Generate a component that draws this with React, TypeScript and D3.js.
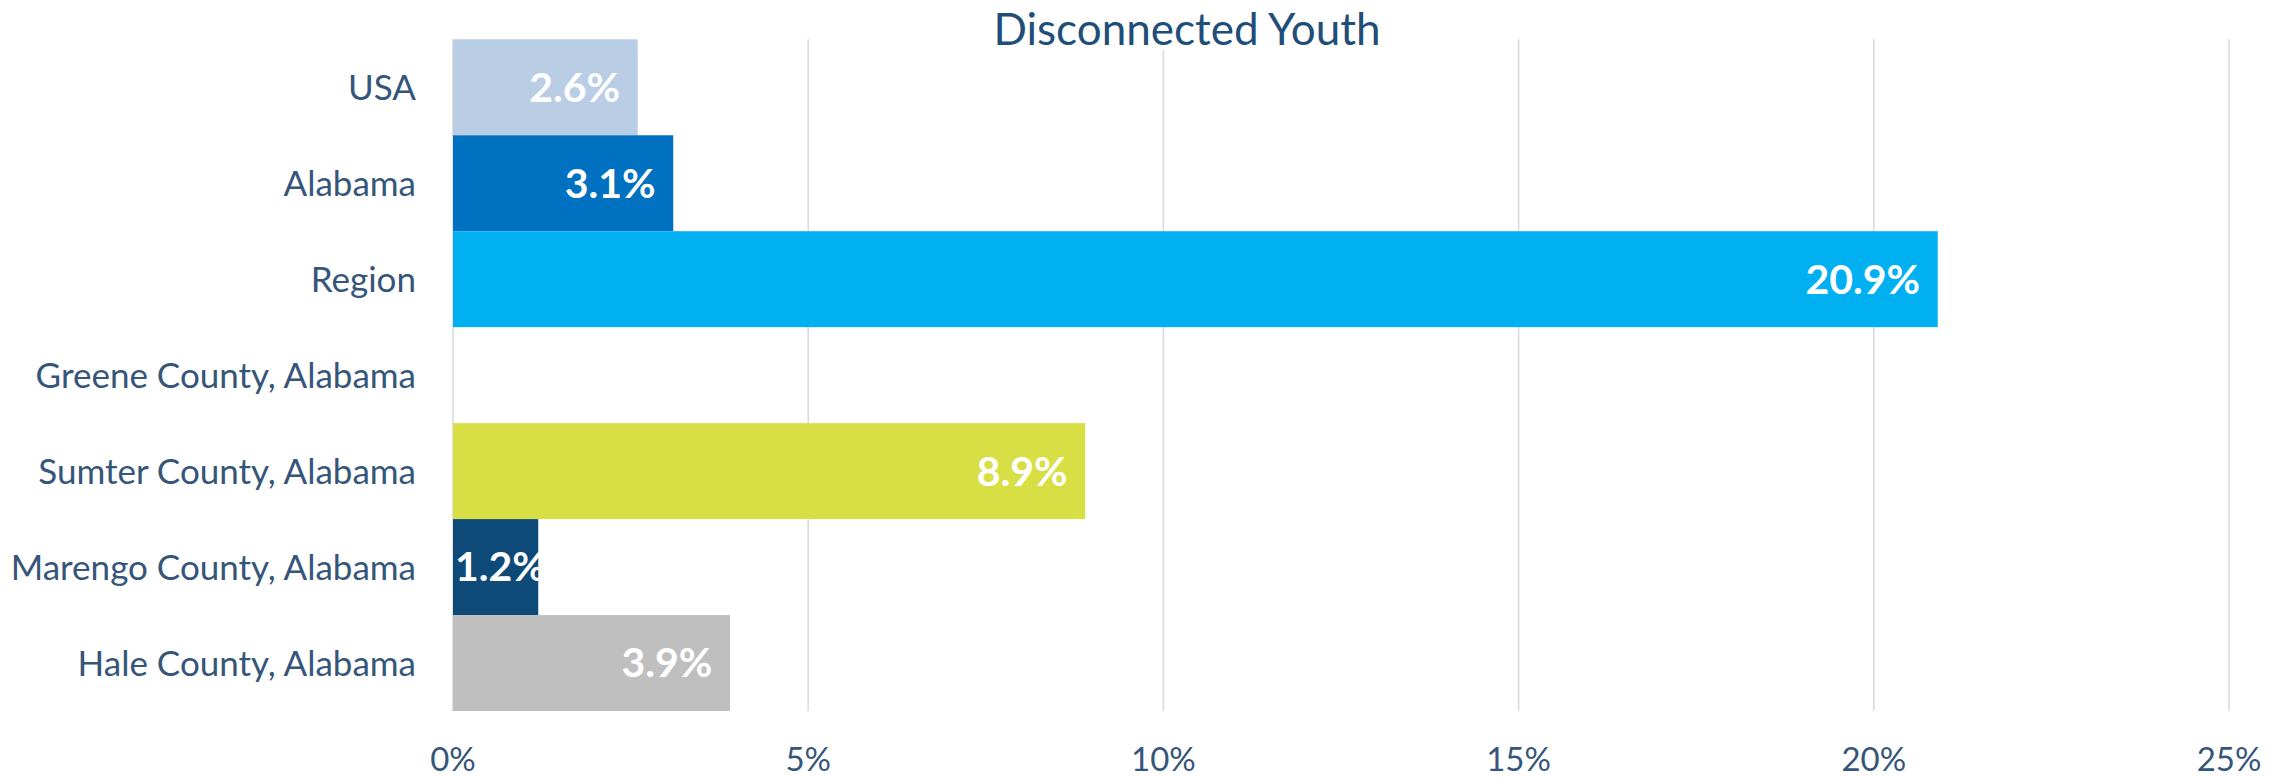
import React from "react";
import * as d3 from "d3";

const title = "Disconnected Youth";
const categories = [
  "USA",
  "Alabama",
  "Region",
  "Greene County, Alabama",
  "Sumter County, Alabama",
  "Marengo County, Alabama",
  "Hale County, Alabama",
];
const values: (number | null)[] = [0.026, 0.031, 0.209, null, 0.089, 0.012, 0.039];
const barColors = ["#B9CDE5", "#0070C0", "#00B0F0", "#FFFFFF", "#D7DF45", "#0D4A78", "#BFBFBF"];
const xTicks = [0, 0.05, 0.1, 0.15, 0.2, 0.25];

const W = 2290;
const H = 778;
const FONT = "Lato, 'Open Sans', sans-serif";

export default function App() {
  const x = d3.scaleLinear().domain([0, 0.25]).range([453, 2229]);
  const y = d3.scaleBand<string>().domain(categories).range([39.3, 711]).padding(0);
  const pct0 = d3.format(".0%");
  const pct1 = d3.format(".1%");
  const labelFs = 41;
  const pad = 17.6;
  const textCol = "#35557A";

  return (
    <svg
      width={W}
      height={H}
      style={{ position: "absolute", left: 0, top: 0, background: "#fff" }}
      fontFamily={FONT}
    >
      <rect x={0} y={0} width={W} height={H} fill="#fff" />
      {xTicks.map((t) => (
        <line
          key={"g" + t}
          x1={x(t)}
          x2={x(t)}
          y1={39.3}
          y2={711}
          stroke="#D9D9D9"
          strokeWidth={1.5}
        />
      ))}
      {categories.map((c, i) => {
        const v = values[i];
        if (v == null) return null;
        return (
          <rect
            key={"b" + c}
            x={x(0)}
            y={y(c)!}
            width={x(v) - x(0)}
            height={y.bandwidth()}
            fill={barColors[i]}
          />
        );
      })}
      {categories.map((c, i) => {
        const v = values[i];
        if (v == null) return null;
        const label = pct1(v);
        const est = label.length * 0.52 * labelFs;
        const endX = x(v) - pad;
        const fits = endX - est >= x(0);
        return (
          <text
            key={"l" + c}
            x={fits ? endX : x(0) + 2}
            y={y(c)! + y.bandwidth() / 2 + 14.4}
            textAnchor={fits ? "end" : "start"}
            fill="#FFFFFF"
            fontWeight={700}
            fontSize={labelFs}
          >
            {label}
          </text>
        );
      })}
      {categories.map((c) => (
        <text
          key={"c" + c}
          x={416}
          y={y(c)! + y.bandwidth() / 2 + 12.5}
          textAnchor="end"
          fill={textCol}
          fontSize={35}
        >
          {c}
        </text>
      ))}
      {xTicks.map((t) => (
        <text
          key={"t" + t}
          x={x(t)}
          y={770.5}
          textAnchor="middle"
          fill={textCol}
          fontSize={33}
        >
          {pct0(t)}
        </text>
      ))}
      <rect x={980} y={0} width={415} height={50} fill="#fff" />
      <text x={1187} y={44.5} textAnchor="middle" fill="#1F4E79" fontSize={44}>
        {title}
      </text>
    </svg>
  );
}
